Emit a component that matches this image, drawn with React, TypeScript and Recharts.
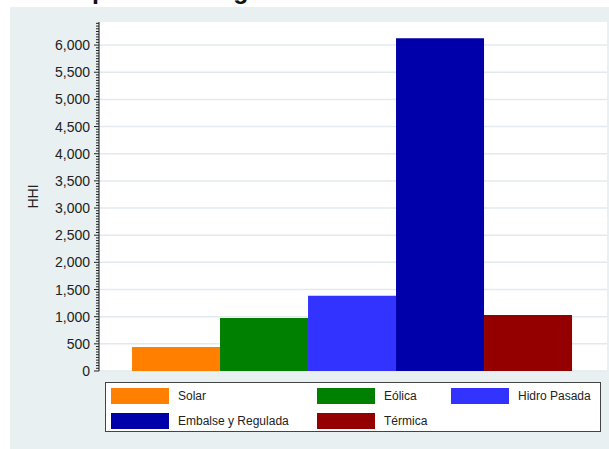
import { BarChart, Bar, XAxis, YAxis, CartesianGrid } from 'recharts';

// Data
const technologies = ['Solar', 'Eólica', 'Hidro Pasada', 'Embalse y Regulada', 'Térmica'];
const hhiValues = [442, 975, 1386, 6128, 1030];
const seriesColors = ['#ff8000', '#008000', '#3333ff', '#0000aa', '#940000'];
const majorTicks = [0, 500, 1000, 1500, 2000, 2500, 3000, 3500, 4000, 4500, 5000, 5500, 6000];
const yMax = 6425;

const minorStep = 50;
const allTicks: number[] = [];
for (let v = 0; v <= yMax; v += minorStep) allTicks.push(v);

const chartData = [
  technologies.reduce((row: Record<string, any>, t, i) => {
    row[t] = hhiValues[i];
    return row;
  }, { name: 'HHI' }),
];

const FONT = '"Liberation Sans", Arial, sans-serif';

// Y tick: major ticks get a label and longer line, minor ticks only a short line
const YTick = ({ x, y, payload }: any) => {
  const v = payload.value;
  const isMajor = majorTicks.includes(v);
  return (
    <g>
      <line x1={x - (isMajor ? 5 : 3)} x2={x} y1={y} y2={y} stroke="#222" strokeWidth={1} />
      {isMajor && (
        <text x={x - 9} y={y} dy={5} textAnchor="end" fontSize={14} fill="#222" fontFamily={FONT}>
          {v.toLocaleString('en-US')}
        </text>
      )}
    </g>
  );
};

// grid only on the major ticks, positioned with the axis scale
const gridRows = ({ yAxis }: any) => {
  const s = yAxis?.scale;
  if (!s) return [];
  const f = typeof s === 'function' ? s : (v: number) => s.map(v);
  return majorTicks.map((t) => f(t));
};

export default function App() {
  return (
    <div style={{ position: 'absolute', left: 0, top: 0, width: 609, height: 449, background: '#fff', overflow: 'hidden', fontFamily: FONT }}>
      {/* panel */}
      <div style={{ position: 'absolute', left: 10, top: 7, width: 599, height: 442, background: '#e8f0f2' }} />

      {/* title, cut off by the top of the frame */}
      <svg style={{ position: 'absolute', left: 0, top: 0 }} width={609} height={10}>
        <text x={42} y={-1} fontSize={25} fontWeight="bold" fill="#111" fontFamily={FONT}>
          HHI por Tecnología
        </text>
      </svg>

      <div style={{ position: 'absolute', left: 0, top: 0 }}>
        <BarChart
          width={609}
          height={449}
          data={chartData}
          margin={{ top: 22, right: 2, left: 0, bottom: 78 }}
          barCategoryGap="6.5%"
          barGap={0}
        >
          <CartesianGrid
            fill="#fff"
            vertical={false}
            stroke="#e3eaed"
            strokeWidth={1.5}
            horizontalCoordinatesGenerator={gridRows}
          />
          <XAxis dataKey="name" height={0} tick={false} tickLine={false} axisLine={{ stroke: '#555', strokeWidth: 1.5 }} />
          <YAxis
            width={99}
            domain={[0, yMax]}
            ticks={allTicks}
            interval={0}
            tickSize={0}
            tickMargin={0}
            tickLine={false}
            tick={<YTick />}
            axisLine={{ stroke: '#111' }}
            label={{ value: 'HHI', angle: -90, position: 'insideLeft', offset: 33, style: { fontSize: 14, fill: '#222', fontFamily: FONT, textAnchor: 'middle' } }}
          />
          {technologies.map((t, i) => (
            <Bar key={t} dataKey={t} fill={seriesColors[i]} isAnimationActive={false} />
          ))}
        </BarChart>
      </div>

      {/* legend */}
      <div
        style={{
          position: 'absolute',
          left: 105,
          top: 382,
          width: 496,
          height: 50,
          boxSizing: 'border-box',
          border: '1px solid #444',
          background: '#fff',
          padding: '5px 0 0 5px',
          display: 'grid',
          gridTemplateColumns: '206px 134px 1fr',
          rowGap: 6,
        }}
      >
        {technologies.map((t, i) => (
          <div key={t} style={{ display: 'flex', alignItems: 'center', height: 16 }}>
            <span style={{ width: 58, height: 16, background: seriesColors[i], display: 'inline-block' }} />
            <span style={{ marginLeft: 9, fontSize: 12, color: '#222' }}>{t}</span>
          </div>
        ))}
      </div>
    </div>
  );
}
